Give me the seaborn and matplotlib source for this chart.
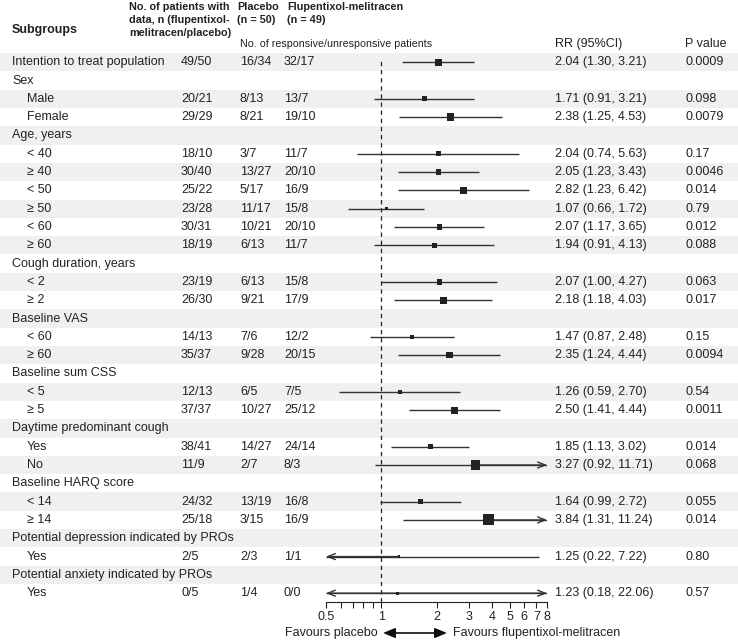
import numpy as np
import pandas as pd
import matplotlib
matplotlib.use("Agg")
import matplotlib.pyplot as plt
import seaborn as sns

# ---------------- data ----------------
labels = ["Intention to treat population", "Sex", "Male", "Female", "Age, years",
          "< 40", "≥ 40", "< 50", "≥ 50", "< 60", "≥ 60",
          "Cough duration, years", "< 2", "≥ 2",
          "Baseline VAS", "< 60", "≥ 60",
          "Baseline sum CSS", "< 5", "≥ 5",
          "Daytime predominant cough", "Yes", "No",
          "Baseline HARQ score", "< 14", "≥ 14",
          "Potential depression indicated by PROs", "Yes",
          "Potential anxiety indicated by PROs", "Yes"]
indent = [0, 0, 1, 1, 0, 1, 1, 1, 1, 1, 1, 0, 1, 1, 0, 1, 1, 0, 1, 1, 0, 1, 1, 0, 1, 1, 0, 1, 0, 1]
n_data = ["49/50", "", "20/21", "29/29", "", "18/10", "30/40", "25/22", "23/28", "30/31", "18/19",
          "", "23/19", "26/30", "", "14/13", "35/37", "", "12/13", "37/37", "", "38/41", "11/9",
          "", "24/32", "25/18", "", "2/5", "", "0/5"]
placebo = ["16/34", "", "8/13", "8/21", "", "3/7", "13/27", "5/17", "11/17", "10/21", "6/13",
           "", "6/13", "9/21", "", "7/6", "9/28", "", "6/5", "10/27", "", "14/27", "2/7",
           "", "13/19", "3/15", "", "2/3", "", "1/4"]
flupent = ["32/17", "", "13/7", "19/10", "", "11/7", "20/10", "16/9", "15/8", "20/10", "11/7",
           "", "15/8", "17/9", "", "12/2", "20/15", "", "7/5", "25/12", "", "24/14", "8/3",
           "", "16/8", "16/9", "", "1/1", "", "0/0"]
rr = [2.04, None, 1.71, 2.38, None, 2.04, 2.05, 2.82, 1.07, 2.07, 1.94,
      None, 2.07, 2.18, None, 1.47, 2.35, None, 1.26, 2.50, None, 1.85, 3.27,
      None, 1.64, 3.84, None, 1.25, None, 1.23]
ci_low = [1.30, None, 0.91, 1.25, None, 0.74, 1.23, 1.23, 0.66, 1.17, 0.91,
          None, 1.00, 1.18, None, 0.87, 1.24, None, 0.59, 1.41, None, 1.13, 0.92,
          None, 0.99, 1.31, None, 0.22, None, 0.18]
ci_high = [3.21, None, 3.21, 4.53, None, 5.63, 3.43, 6.42, 1.72, 3.65, 4.13,
           None, 4.27, 4.03, None, 2.48, 4.44, None, 2.70, 4.44, None, 3.02, 11.71,
           None, 2.72, 11.24, None, 7.22, None, 22.06]
p_values = ["0.0009", "", "0.098", "0.0079", "", "0.17", "0.0046", "0.014", "0.79", "0.012", "0.088",
            "", "0.063", "0.017", "", "0.15", "0.0094", "", "0.54", "0.0011", "", "0.014", "0.068",
            "", "0.055", "0.014", "", "0.80", "", "0.57"]
# relative weight of each estimate (drawn as marker area)
weights = [49, None, 25, 56, None, 25, 30, 49, 9, 30, 25,
           None, 30, 49, None, 16, 42, None, 16, 49, None, 25, 90,
           None, 25, 121, None, 7, None, 7]

x_ticks = [0.5, 0.6, 0.7, 0.8, 0.9, 1, 2, 3, 4, 5, 6, 7, 8]
x_tick_labels = ["0.5", "", "", "", "", "1", "2", "3", "4", "5", "6", "7", "8"]

# ---------------- style ----------------
sns.set_theme(style="white")
plt.rcParams["font.family"] = ["Liberation Sans", "DejaVu Sans"]
TXT = "#222222"
SHADE = "#f0f0f0"
FS = 9

W, H = 738, 644
fig = plt.figure(figsize=(W / 100, H / 100), dpi=100)
bg = fig.add_axes([0, 0, 1, 1])
bg.set_xlim(0, W)
bg.set_ylim(H, 0)
bg.axis("off")

Y0, DY = 62.2, 18.31
nrows = len(labels)


def ypx(i):
    return Y0 + DY * i


for i in range(nrows):
    if i % 2 == 0:
        bg.axhspan(ypx(i) - DY / 2, ypx(i) + DY / 2, color=SHADE, lw=0, zorder=0)

# header
hb = dict(fontsize=7.8, fontweight="bold", color=TXT, va="center", ha="left")
bg.text(12, 30, "Subgroups", fontsize=9, fontweight="bold", color=TXT, va="center")
for k, line in enumerate(["No. of patients with", "data, n (flupentixol-", "melitracen/placebo)"]):
    bg.text(129, 6.5 + 13 * k, line, **hb)
for k, line in enumerate(["Placebo", "(n = 50)"]):
    bg.text(237, 6.5 + 13 * k, line, **hb)
for k, line in enumerate(["Flupentixol-melitracen", "(n = 49)"]):
    bg.text(287, 6.5 + 13 * k, line, **hb)
bg.text(240, 43.5, "No. of responsive/unresponsive patients", fontsize=7.7, color=TXT, va="center")
bg.text(555, 43.5, "RR (95%CI)", fontsize=FS, color=TXT, va="center")
bg.text(685, 43.5, "P value", fontsize=FS, color=TXT, va="center")

# table body
for i in range(nrows):
    y = ypx(i)
    bg.text(12 + 15 * indent[i], y, labels[i], fontsize=FS, color=TXT, va="center")
    bg.text(181, y, n_data[i], fontsize=FS, color=TXT, va="center")
    bg.text(240, y, placebo[i], fontsize=FS, color=TXT, va="center")
    bg.text(284, y, flupent[i], fontsize=FS, color=TXT, va="center")
    if rr[i] is not None:
        bg.text(555, y, f"{rr[i]:.2f} ({ci_low[i]:.2f}, {ci_high[i]:.2f})",
                fontsize=FS, color=TXT, va="center")
    bg.text(685, y, p_values[i], fontsize=FS, color=TXT, va="center")

# ---------------- forest panel ----------------
fx0, fx1 = 326, 547
top_px, bot_px = Y0 - DY / 2, Y0 + DY * (nrows - 0.5)
fa = fig.add_axes([fx0 / W, 1 - bot_px / H, (fx1 - fx0) / W, (bot_px - top_px) / H])
fa.patch.set_alpha(0)
fa.set_xscale("log")
xmin, xmax = x_ticks[0], x_ticks[-1]

df = pd.DataFrame({"row": np.arange(nrows), "rr": rr, "lo": ci_low, "hi": ci_high, "weight": weights})
df = df.dropna().reset_index(drop=True)

LC = "#333333"
for _, r in df.iterrows():
    lo_c = max(r.lo, xmin)
    hi_c = min(r.hi, xmax)
    fa.hlines(r.row, lo_c, hi_c, color=LC, lw=1.0, zorder=2)
    ap = dict(arrowstyle="->,head_length=0.45,head_width=0.18", color=LC, lw=1.0,
              shrinkA=0, shrinkB=0)
    if r.hi > xmax:
        fa.annotate("", xy=(xmax, r.row), xytext=(r.rr, r.row), arrowprops=ap,
                    annotation_clip=False, zorder=2)
    if r.lo < xmin:
        fa.annotate("", xy=(xmin, r.row), xytext=(r.rr, r.row), arrowprops=ap,
                    annotation_clip=False, zorder=2)

k = 0.72 ** 2  # px^2 -> pt^2
wmin, wmax = df.weight.min(), df.weight.max()
sns.scatterplot(data=df, x="rr", y="row", size="weight", sizes=(k * wmin, k * wmax),
                size_norm=(wmin, wmax), marker="s", color="#222222", linewidth=0,
                legend=False, ax=fa, zorder=3)

fa.axvline(1, color="#222222", lw=0.9, ls=(0, (3.5, 3)), ymax=0.99, zorder=1)

fa.set_xlim(xmin, xmax)
fa.set_ylim(nrows - 0.5, -0.5)
fa.set_xlabel("")
fa.set_ylabel("")
fa.set_yticks([])
fa.xaxis.set_major_locator(matplotlib.ticker.FixedLocator(x_ticks))
fa.xaxis.set_major_formatter(matplotlib.ticker.FixedFormatter(x_tick_labels))
fa.xaxis.set_minor_locator(matplotlib.ticker.NullLocator())
for s in ["left", "right", "top"]:
    fa.spines[s].set_visible(False)
fa.spines["bottom"].set_color("#222222")
fa.spines["bottom"].set_linewidth(0.8)
fa.tick_params(axis="x", which="major", direction="out", length=4.5, width=0.8,
               color="#222222", labelsize=FS, labelcolor=TXT, pad=1.5, bottom=True)

# favours labels
fy = 633
bg.text(378, fy, "Favours placebo", fontsize=FS, color=TXT, va="center", ha="right")
bg.annotate("", xy=(383, fy), xytext=(447, fy),
            arrowprops=dict(arrowstyle="<|-|>,head_length=0.6,head_width=0.25", color="#111111",
                            lw=1.2, shrinkA=0, shrinkB=0))
bg.text(453, fy, "Favours flupentixol-melitracen", fontsize=FS, color=TXT, va="center", ha="left")

fig.savefig("out.png", dpi=100)
